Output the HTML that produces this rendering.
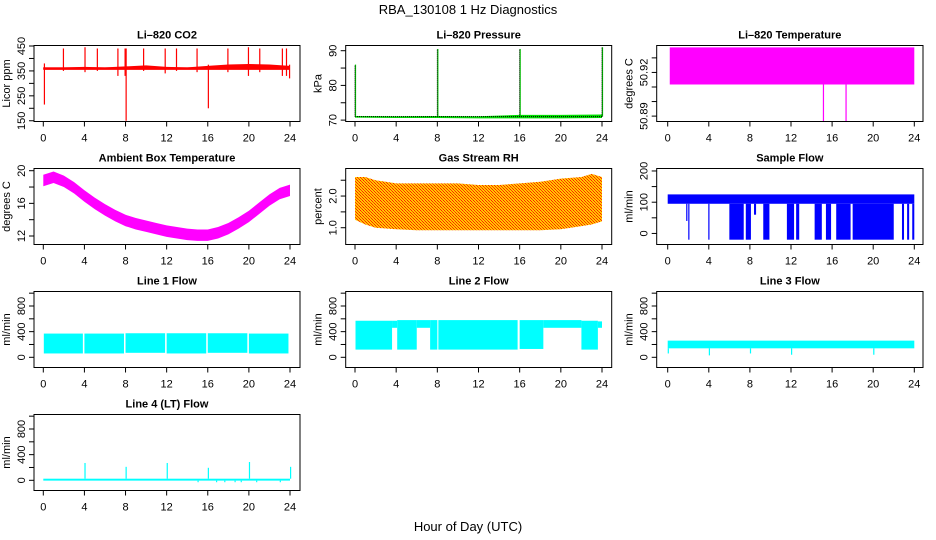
<!DOCTYPE html>
<html><head><meta charset="utf-8"><style>
html,body{margin:0;padding:0;background:#fff;}
svg{display:block;font-family:"Liberation Sans",sans-serif;}
</style></head><body>
<svg id="c" width="936" height="540" viewBox="0 0 936 540" xmlns="http://www.w3.org/2000/svg">
<defs>
<pattern id="rhpat" width="3" height="3" patternUnits="userSpaceOnUse">
<rect width="3" height="3" fill="#ffc800"/><rect width="1" height="1" fill="#ff2000"/><rect x="1" y="1" width="1" height="1" fill="#ff4000"/><rect x="2" y="2" width="1" height="1" fill="#ff2000"/>
</pattern>
</defs>
<text x="468" y="14" text-anchor="middle" font-size="13">RBA_130108  1 Hz Diagnostics</text>
<text x="468" y="531" text-anchor="middle" font-size="13">Hour of Day (UTC)</text>
</svg>
<script>
// ---- data ----
const xTicks = [0,4,8,12,16,20,24];
const co2Hours = [0,2,4,6,8,10,12,14,16,18,20,22,24];
const co2Lo = [354,354,354,354,354,354,354,354,354,354,354,354,354];
const co2Hi = [364,364,366,364,368,372,366,364,370,376,378,376,370];
const co2SpikeH = [0.05,1.9,4.0,5.2,7.2,7.9,8.0,9.7,11.8,12.9,14.9,16.0,17.9,19.9,21.0,23.2,23.6,23.9];
const co2SpikeLo = [215,350,345,350,330,330,150,350,340,350,345,200,345,330,345,330,330,320];
const co2SpikeHi = [380,440,445,440,440,440,440,440,440,440,440,375,440,445,440,440,440,375];
const presHours = [0,4,8,12,16,20,24];
const presLo = [70.7,70.6,70.6,70.5,70.5,70.5,70.6];
const presHi = [71.2,71.1,71.2,71.1,71.5,71.5,71.6];
const presSpikeH = [0.0,8.0,16.0,24.0];
const presSpikeHi = [86,90.5,90.5,91];
const ltHours = [0.2,24];
const ltLo = [50.9117,50.9117];
const ltHi = [50.9372,50.9372];
const ltDipH = [15.1,17.3];
const ltDipLo = [50.8865,50.8865];
const ambHours = [0,1,2,3,4,5,6,7,8,9,10,11,12,13,14,15,16,17,18,19,20,21,22,23,24];
const ambMid = [18.8,19.2,18.7,17.9,16.9,16.0,15.2,14.5,13.9,13.5,13.2,12.9,12.6,12.4,12.2,12.1,12.1,12.4,12.9,13.6,14.4,15.4,16.4,17.2,17.6];
const ambHalf = [0.7,0.7,0.7,0.7,0.7,0.7,0.7,0.7,0.7,0.7,0.7,0.7,0.7,0.7,0.7,0.7,0.7,0.7,0.7,0.7,0.7,0.7,0.7,0.7,0.7];
const rhHours = [0,1,2,4,6,8,10,12,14,16,18,20,22,23,24];
const rhLo = [1.25,1.1,1.0,0.95,0.92,0.92,0.92,0.92,0.92,0.92,0.92,0.95,1.05,1.1,1.2];
const rhHi = [2.6,2.6,2.5,2.4,2.4,2.4,2.4,2.35,2.35,2.4,2.45,2.55,2.6,2.7,2.6];
const sfLo = 95, sfHi = 125;
const sfDropStart = [1.8,2.0,3.95,6.0,7.6,8.4,9.3,11.6,12.5,14.3,15.4,16.4,18.0,22.8,23.3,23.8];
const sfDropEnd   = [1.9,2.1,4.05,7.4,8.1,8.6,9.9,12.3,12.8,15.0,15.9,17.8,22.0,23.0,23.5,24.0];
const sfDropMin   = [40,-20,-20,-20,-20,60,-20,-20,-20,-20,-20,-20,-20,-20,-20,-20];
const l1Start = [0.05,4.0,8.0,12.0,16.0,20.0];
const l1End   = [3.85,7.85,11.85,15.85,19.85,23.85];
const l1Lo = [60,60,70,60,70,60];
const l1Hi = [370,370,375,375,375,370];
const l2Start = [0.05,3.6,4.1,6.0,7.3,8.1,16.0,18.3,22.0,23.6];
const l2End   = [3.6,4.1,6.0,7.3,8.0,15.8,18.3,22.0,23.6,24.0];
const l2Lo = [120,460,120,460,120,120,130,460,120,460];
const l2Hi = [570,570,580,580,580,580,580,580,570,560];
const l3Lo = 140, l3Hi = 260;
const l3SpikeH = [0.0,4.0,8.0,12.0,20.0];
const l3SpikeLo = [60,30,60,40,40];
const l4Lo = -5, l4Hi = 25;
const l4SpikeH = [4.0,8.0,12.0,16.0,20.0,24.0];
const l4SpikeHi = [270,210,270,195,285,210];
const l4DipH = [15.0,16.8,17.6,18.6,19.2,20.7,23.0];
const l4DipLo = [-30,-30,-30,-30,-30,-30,-30];

// ---- layout ----
const svg = document.getElementById('c');
const NS = 'http://www.w3.org/2000/svg';
const cols = [{l:34,r:300,x0:43.3,x1:290},{l:345.7,r:611.7,x0:355,x1:602},{l:656.7,r:923,x0:667.7,x1:914.3}];
function mk(tag, attrs, parent){const e=document.createElementNS(NS,tag);for(const k in attrs)e.setAttribute(k,attrs[k]);(parent||svg).appendChild(e);return e;}

function panel(name, col, row, ymin, ymax, ticks, labels, ylab, title){
  const c = cols[col]; const top = 45.5+123*row, bot = top+76;
  const g = mk('g',{});
  
  
  const X = h => c.x0 + (c.x1-c.x0)*h/24;
  const Y = v => bot - (v-ymin)/(ymax-ymin)*(bot-top);
  const marks = mk('g',{},g);
  
  
  const box = mk('rect',{x:c.l,y:top,width:c.r-c.l,height:bot-top,fill:'none',stroke:'#000','stroke-width':1},g);
  
  
  const xa = mk('g',{},g);
  
  
  mk('line',{x1:X(0),x2:X(24),y1:bot,y2:bot,stroke:'#000'},xa);
  xTicks.forEach(t=>{
    mk('line',{x1:X(t),x2:X(t),y1:bot,y2:bot+5,stroke:'#000'},xa);
    const tx = mk('text',{x:X(t),y:bot+20,'text-anchor':'middle','font-size':11},xa);
    tx.textContent = t;
  });
  const ya = mk('g',{},g);
  
  
  ticks.forEach((t,i)=>{
    mk('line',{x1:c.l-5,x2:c.l,y1:Y(t),y2:Y(t),stroke:'#000'},ya);
    if(labels[i]!==''){
      const tx = mk('text',{x:c.l-9,y:Y(t),'text-anchor':'middle','font-size':11,transform:`rotate(-90 ${c.l-9} ${Y(t)})`},ya);
      tx.textContent = labels[i];
    }
  });
  const yl = mk('text',{x:c.l-24,y:(top+bot)/2,'text-anchor':'middle','font-size':11,transform:`rotate(-90 ${c.l-24} ${(top+bot)/2})`},g);
  yl.textContent = ylab;
  
  
  const tt = mk('text',{x:(c.l+c.r)/2,y:top-7,'text-anchor':'middle','font-size':11,'font-weight':'bold'},g);
  tt.textContent = title;
  
  
  return {g:marks,X,Y};
}
function vbar(p, h0, h1, lo, hi, fill){
  const x0=p.X(h0), x1=Math.max(p.X(h1), x0+1.2);
  return mk('rect',{x:x0,y:p.Y(hi),width:x1-x0,height:Math.max(p.Y(lo)-p.Y(hi),1),fill:fill},p.g);
}
function band(p, hours, lo, hi, fill){
  let d='M'+hours.map((h,i)=>p.X(h)+','+p.Y(hi[i])).join('L');
  for(let i=hours.length-1;i>=0;i--) d+='L'+p.X(hours[i])+','+p.Y(lo[i]);
  return mk('path',{d:d+'Z',fill:fill},p.g);
}

let p = panel('co2',0,0,147,452,[150,200,250,300,350,400,450],['150','','250','','350','','450'],'Licor ppm','Li\u2013820 CO2');
band(p, co2Hours, co2Lo, co2Hi, '#ff0000');
mk('line',{x1:p.X(0),x2:p.X(24),y1:p.Y(360),y2:p.Y(360),stroke:'#ff0000','stroke-width':2},p.g);
co2SpikeH.forEach((h,i)=>{const r=vbar(p,h,h+0.1,co2SpikeLo[i],co2SpikeHi[i],'#ff0000');
});

p = panel('pressure',1,0,69.6,91.5,[70,75,80,85,90],['70','','80','','90'],'kPa','Li\u2013820 Pressure');
band(p, presHours, presLo, presHi, '#00dd00');
mk('line',{x1:p.X(0),x2:p.X(24),y1:p.Y(71),y2:p.Y(71),stroke:'#000','stroke-width':1,'stroke-dasharray':'1 1'},p.g);
presSpikeH.forEach((h,i)=>{
  const l = mk('line',{x1:p.X(h)+0.5,x2:p.X(h)+0.5,y1:p.Y(71),y2:p.Y(presSpikeHi[i]),stroke:'#00cc00','stroke-width':1.2},p.g);
  
  mk('line',{x1:p.X(h),x2:p.X(h),y1:p.Y(71),y2:p.Y(presSpikeHi[i]),stroke:'#000','stroke-width':1,'stroke-dasharray':'1 1'},p.g);
});

p = panel('li820-temp',2,0,50.8863,50.9385,[50.89,50.90,50.91,50.92,50.93],['50.89','','','50.92',''],'degrees C','Li\u2013820 Temperature');
band(p, ltHours, ltLo, ltHi, '#ff00ff');
ltDipH.forEach((h,i)=>{const r=vbar(p,h,h+0.04,ltDipLo[i],ltLo[0],'#ff00ff');
});

p = panel('ambient-temp',0,1,10.96,20.27,[12,14,16,18,20],['12','','16','','20'],'degrees C','Ambient Box Temperature');
band(p, ambHours, ambMid.map((m,i)=>m-ambHalf[i]), ambMid.map((m,i)=>m+ambHalf[i]), '#ff00ff');

p = panel('rh',1,1,0.47,2.87,[1.0,1.5,2.0,2.5],['1.0','','2.0',''],'percent','Gas Stream RH');
band(p, rhHours, rhLo, rhHi, 'url(#rhpat)');

p = panel('sample-flow',2,1,-35.4,207.9,[0,50,100,150,200],['0','','100','','200'],'ml/min','Sample Flow');
vbar(p,0,24,sfLo,sfHi,'#0000ff');
sfDropStart.forEach((s,i)=>{const r=vbar(p,s,sfDropEnd[i],sfDropMin[i],sfLo,'#0000ff');
});

const flowTicks=[0,200,400,600,800,1000], flowLabels=['0','','400','','800',''];
p = panel('line1-flow',0,2,-159,1026,flowTicks,flowLabels,'ml/min','Line 1 Flow');
l1Start.forEach((s,i)=>{const r=vbar(p,s,l1End[i],l1Lo[i],l1Hi[i],'#00ffff');
});

p = panel('line2-flow',1,2,-159,1026,flowTicks,flowLabels,'ml/min','Line 2 Flow');
l2Start.forEach((s,i)=>{const r=vbar(p,s,l2End[i],l2Lo[i],l2Hi[i],'#00ffff');
});

p = panel('line3-flow',2,2,-159,1026,flowTicks,flowLabels,'ml/min','Line 3 Flow');
vbar(p,0,24,l3Lo,l3Hi,'#00ffff');
l3SpikeH.forEach((h,i)=>{const r=vbar(p,h,h+0.05,l3SpikeLo[i],l3Lo,'#00ffff');
});

p = panel('line4-flow',0,3,-159,1026,flowTicks,flowLabels,'ml/min','Line 4 (LT) Flow');
vbar(p,0,24,l4Lo,l4Hi,'#00ffff');
l4SpikeH.forEach((h,i)=>{const r=vbar(p,h,h+0.05,l4Hi,l4SpikeHi[i],'#00ffff');
});
l4DipH.forEach((h,i)=>{const r=vbar(p,h,h+0.1,l4DipLo[i],l4Lo,'#00ffff');
});
</script>
</body></html>
